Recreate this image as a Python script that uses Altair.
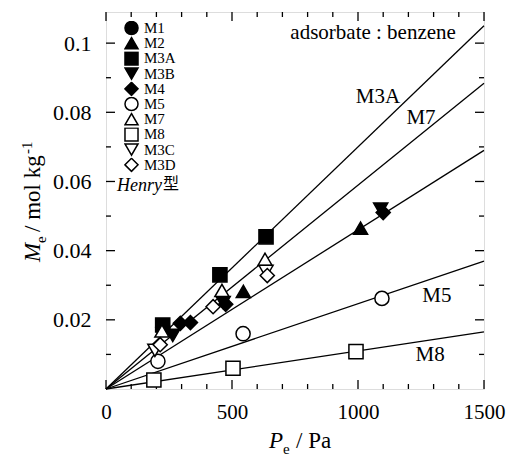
import altair as alt
import pandas as pd

# ---------------- data ----------------
series = ["M1", "M2", "M3A", "M3B", "M4", "M5", "M7", "M8", "M3C", "M3D"]
shapes = ["circle", "triangle-up", "square", "triangle-down", "diamond",
          "circle", "triangle-up", "square", "triangle-down", "diamond"]
fills = ["black"] * 5 + ["white"] * 5
strokes = ["black"] * 10

m1_p = [225];               m1_m = [0.0178]
m2_p = [232, 545, 1010];    m2_m = [0.0180, 0.0282, 0.0465]
m3a_p = [225, 452, 635];    m3a_m = [0.0185, 0.0330, 0.0440]
m3b_p = [265, 465, 1090];   m3b_m = [0.0155, 0.0250, 0.0520]
m4_p = [295, 335, 475, 1100]; m4_m = [0.0190, 0.0192, 0.0245, 0.0510]
m5_p = [206, 544, 1095];    m5_m = [0.0080, 0.0160, 0.0262]
m7_p = [222, 460, 631];     m7_m = [0.0168, 0.0285, 0.0375]
m8_p = [190, 504, 992];     m8_m = [0.0026, 0.0060, 0.0108]
m3c_p = [194, 635];         m3c_m = [0.0112, 0.0340]
m3d_p = [215, 425, 640];    m3d_m = [0.0128, 0.0238, 0.0328]

fit_names = ["M3A", "M7", "M2", "M5", "M8"]
fit_end_p = 1500
fit_end_m = [0.105, 0.0884, 0.069, 0.037, 0.0165]

ann_text = ["adsorbate : benzene", "M3A", "M7", "M5", "M8"]
ann_p = [1060, 1079, 1250, 1313, 1286]
ann_m = [0.1029, 0.0844, 0.0783, 0.0269, 0.0098]

x_major = [0, 500, 1000, 1500]
x_minor = [100, 200, 300, 400, 600, 700, 800, 900, 1100, 1200, 1300, 1400]
y_major = [0.02, 0.04, 0.06, 0.08, 0.10]
y_minor = [0.01, 0.03, 0.05, 0.07, 0.09]

# ---------------- build tables ----------------
all_p = [m1_p, m2_p, m3a_p, m3b_p, m4_p, m5_p, m7_p, m8_p, m3c_p, m3d_p]
all_m = [m1_m, m2_m, m3a_m, m3b_m, m4_m, m5_m, m7_m, m8_m, m3c_m, m3d_m]
rows = []
for s, ps, ms in zip(series, all_p, all_m):
    for p, m in zip(ps, ms):
        rows.append({"series": s, "P": p, "M": m})
pts = pd.DataFrame(rows)

lrows = []
for n, e in zip(fit_names, fit_end_m):
    lrows.append({"fit": n, "P": 0, "M": 0.0})
    lrows.append({"fit": n, "P": fit_end_p, "M": e})
lines_df = pd.DataFrame(lrows)

ann = pd.DataFrame({"t": ann_text, "P": ann_p, "M": ann_m})

W, H = 378, 377
XD = [0, 1500]
YD = [0, 0.109]
SERIF = "Liberation Serif"

xs = alt.Scale(domain=XD, nice=False, zero=False)
ys = alt.Scale(domain=YD, nice=False, zero=False)

lines = alt.Chart(lines_df).mark_line(color="black", strokeWidth=1.3).encode(
    x=alt.X("P:Q", scale=xs,
            axis=alt.Axis(values=x_major, title=None, ticks=False, domain=False, grid=False,
                          format="d", labelFont=SERIF, labelFontSize=21, labelColor="black",
                          labelPadding=12, labelFlush=False)),
    y=alt.Y("M:Q", scale=ys,
            axis=alt.Axis(values=y_major, title=None, ticks=False, domain=False, grid=False,
                          format=".2~f", labelFont=SERIF, labelFontSize=22,
                          labelColor="black", labelPadding=15)),
    detail="fit:N",
)

leg = alt.Legend(title=None, orient="none", legendX=18, legendY=9)

points = alt.Chart(pts).mark_point(
    strokeWidth=1.5, opacity=1, fillOpacity=1, size=200
).encode(
    x=alt.X("P:Q", scale=xs),
    y=alt.Y("M:Q", scale=ys),
    shape=alt.Shape("series:N", sort=series,
                    scale=alt.Scale(domain=series, range=shapes), legend=leg),
    fill=alt.Fill("series:N", sort=series,
                  scale=alt.Scale(domain=series, range=fills), legend=leg),
    stroke=alt.Stroke("series:N", sort=series,
                      scale=alt.Scale(domain=series, range=strokes), legend=leg),
)

annot = alt.Chart(ann).mark_text(font=SERIF, fontSize=21, color="black").encode(
    x=alt.X("P:Q", scale=xs), y=alt.Y("M:Q", scale=ys), text="t:N"
)

henry = alt.Chart(pd.DataFrame({"t": ["Henry"], "P": [44], "M": [0.0588]})).mark_text(
    font=SERIF, fontSize=18, fontStyle="italic", align="left", color="black"
).encode(x=alt.X("P:Q", scale=xs), y=alt.Y("M:Q", scale=ys), text="t:N")

kata = alt.Chart(pd.DataFrame({"t": ["型"], "P": [226], "M": [0.0592]})).mark_text(
    font="Noto Sans CJK JP", fontSize=16, align="left", color="black"
).encode(x=alt.X("P:Q", scale=xs), y=alt.Y("M:Q", scale=ys), text="t:N")


def ticks_layer(vals, side, length):
    df = pd.DataFrame({"v": vals})
    base = alt.Chart(df).mark_rule(color="black", strokeWidth=1.3)
    if side == "bottom":
        return base.encode(x=alt.X("v:Q", scale=xs), y=alt.value(H), y2=alt.value(H - length))
    if side == "top":
        return base.encode(x=alt.X("v:Q", scale=xs), y=alt.value(0), y2=alt.value(length))
    if side == "left":
        return base.encode(y=alt.Y("v:Q", scale=ys), x=alt.value(0), x2=alt.value(length))
    return base.encode(y=alt.Y("v:Q", scale=ys), x=alt.value(W), x2=alt.value(W - length))


tick_layers = []
for side in ["bottom", "top"]:
    tick_layers.append(ticks_layer(x_major, side, 9))
    tick_layers.append(ticks_layer(x_minor, side, 5))
for side in ["left", "right"]:
    tick_layers.append(ticks_layer(y_major, side, 9))
    tick_layers.append(ticks_layer(y_minor, side, 5))


def txt(t, x, y, size, style="normal", angle=0, align="left"):
    return alt.Chart(pd.DataFrame({"t": [t]})).mark_text(
        font=SERIF, fontSize=size, fontStyle=style, angle=angle, align=align,
        baseline="alphabetic", color="black"
    ).encode(text="t:N", x=alt.value(x), y=alt.value(y))


# axis titles (pixel layout relative to plot area)
xt = [
    txt("P", 163, 436, 23, "italic"),
    txt("e", 177, 442, 15),
    txt("/ Pa", 190, 436, 23),
]
yt = [
    txt("M", -66, 250, 23, "italic", 270),
    txt("e", -60, 231, 15, "normal", 270),
    txt("/ mol kg", -66, 220, 23, "normal", 270),
    txt("-1", -74, 142, 15, "normal", 270),
]

chart = alt.layer(
    lines, *tick_layers, annot, henry, kata, points, *xt, *yt
).resolve_scale(x="shared", y="shared").properties(
    width=W, height=H,
    autosize=alt.AutoSizeParams(type="none"),
    padding={"left": 106, "top": 12, "right": 32, "bottom": 70},
).configure_view(stroke="black", strokeWidth=1.5).configure(
    background="white"
).configure_legend(
    labelFont=SERIF, labelFontSize=15, labelColor="black",
    symbolSize=170, symbolStrokeWidth=1.5, symbolOpacity=1,
    rowPadding=0.2, padding=0, labelOffset=5, clipHeight=14
)

chart.save("out.html", embed_options={"renderer": "svg", "actions": False})
